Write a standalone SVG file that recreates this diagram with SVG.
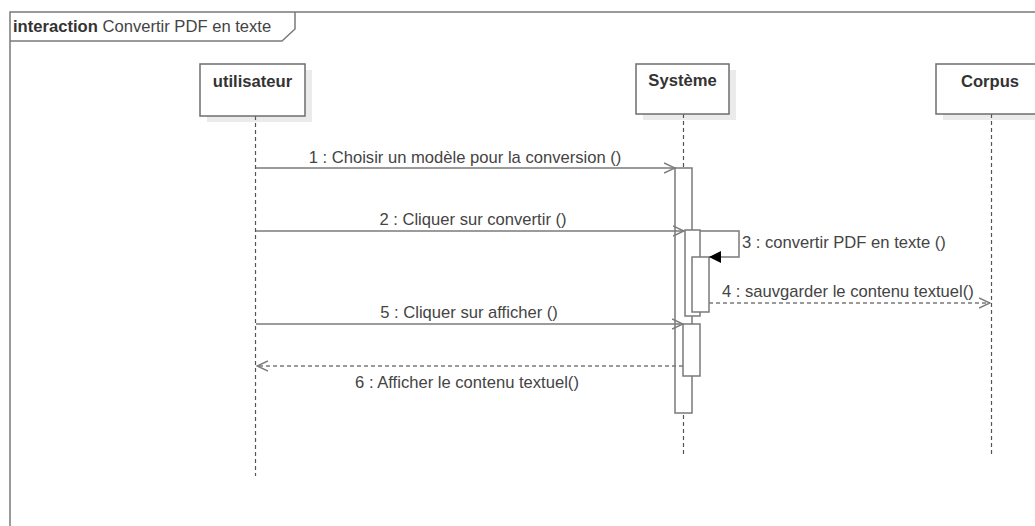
<svg xmlns="http://www.w3.org/2000/svg" width="1035" height="526" viewBox="0 0 1035 526">
<defs>
<style>
.t{font-family:"Liberation Sans",Arial,sans-serif;font-size:16.6px;fill:#444}
.b{font-weight:bold;fill:#333}
.box{fill:#fff;stroke:#6e6e6e;stroke-width:1.5}
.sh{fill:#ebebeb}
.life{stroke:#555;stroke-width:1.2;stroke-dasharray:4 3;fill:none}
.bar{fill:#fff;stroke:#7a7a7a;stroke-width:1.5}
.msg{stroke:#7a7a7a;stroke-width:1.5;fill:none}
.ret{stroke:#7a7a7a;stroke-width:1.5;fill:none;stroke-dasharray:4 3}
</style>
<marker id="open" viewBox="0 0 12 12" refX="11" refY="6" markerWidth="12" markerHeight="12" markerUnits="userSpaceOnUse" orient="auto">
<path d="M0,1 L11,6 L0,11" fill="none" stroke="#7a7a7a" stroke-width="1.4"/>
</marker>
<marker id="filled" viewBox="0 0 13 13" refX="12" refY="6.5" markerWidth="13" markerHeight="13" markerUnits="userSpaceOnUse" orient="auto">
<path d="M0,0.5 L12,6.5 L0,12.5 Z" fill="#000"/>
</marker>
</defs>
<rect width="1035" height="526" fill="#fff"/>
<g id="frame">
<rect x="10" y="12" width="1100" height="600" fill="none" stroke="#7a7a7a" stroke-width="1.5"/>
<path d="M10,41 L282,41 L295,29 L295,12" fill="none" stroke="#7a7a7a" stroke-width="1.5"/>
<text class="t" x="13" y="32"><tspan class="b" font-weight="bold">interaction</tspan> Convertir PDF en texte</text>
</g>
<g id="utilisateur">
<rect class="sh" x="207" y="70" width="105" height="52"/>
<line class="life" x1="255.5" y1="116" x2="255.5" y2="476"/>
<rect class="box" x="200" y="64" width="105" height="52"/>
<text class="t b" x="252.5" y="87" text-anchor="middle">utilisateur</text>
</g>
<g id="systeme">
<rect class="sh" x="643" y="70" width="93" height="50"/>
<line class="life" x1="683.5" y1="114" x2="683.5" y2="456"/>
<rect class="box" x="636" y="64" width="93" height="50"/>
<text class="t b" x="682.5" y="86" text-anchor="middle">Système</text>
</g>
<g id="corpus">
<rect class="sh" x="943" y="70" width="110" height="50"/>
<line class="life" x1="991.5" y1="114" x2="991.5" y2="456"/>
<rect class="box" x="936" y="64" width="110" height="50"/>
<text class="t b" x="990" y="87" text-anchor="middle">Corpus</text>
</g>
<g id="activations">
<rect class="bar" x="675" y="168" width="17" height="245"/>
<rect class="bar" x="685" y="230" width="15" height="86"/>
<rect class="bar" x="692" y="257" width="17" height="55"/>
<rect class="bar" x="683" y="324" width="17" height="52"/>
</g>
<g id="connectors">
<line class="msg" x1="256" y1="168" x2="675" y2="168" marker-end="url(#open)"/>
<text class="t" x="465" y="163" text-anchor="middle">1 : Choisir un modèle pour la conversion ()</text>
<line class="msg" x1="256" y1="231" x2="684" y2="231" marker-end="url(#open)"/>
<text class="t" x="473" y="225" text-anchor="middle">2 : Cliquer sur convertir ()</text>
<polyline class="msg" points="700,231 739,231 739,257 709,257" marker-end="url(#filled)"/>
<text class="t" x="742" y="248">3 : convertir PDF en texte ()</text>
<line class="ret" x1="709" y1="303" x2="990" y2="303" marker-end="url(#open)"/>
<text class="t" x="722" y="297">4 : sauvgarder le contenu textuel()</text>
<line class="msg" x1="256" y1="324" x2="683" y2="324" marker-end="url(#open)"/>
<text class="t" x="469" y="318" text-anchor="middle">5 : Cliquer sur afficher ()</text>
<line class="ret" x1="683" y1="366" x2="257" y2="366" marker-end="url(#open)"/>
<text class="t" x="467" y="388" text-anchor="middle">6 : Afficher le contenu textuel()</text>
</g>
</svg>
